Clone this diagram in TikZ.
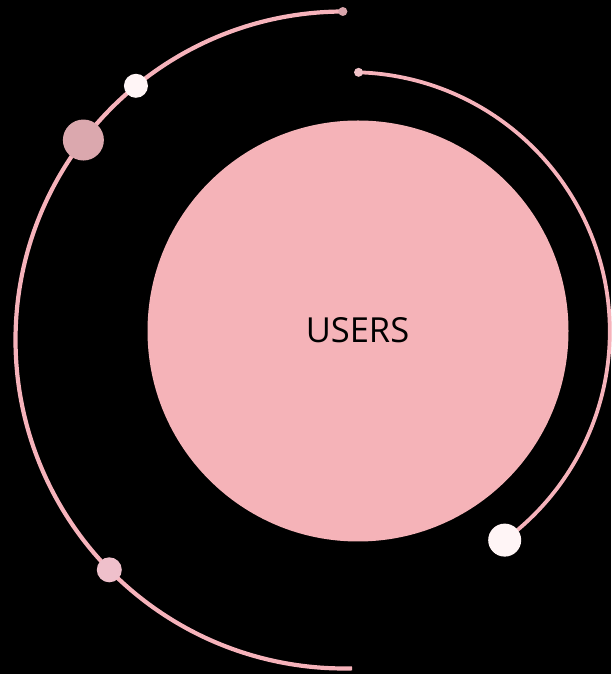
\documentclass[tikz,border=0pt]{standalone}
\usepackage{fontspec}
\setmainfont{Open Sans}
\definecolor{bigpink}{HTML}{F5B3B8}
\definecolor{arcpink}{HTML}{F6B3BB}
\definecolor{dotA}{HTML}{D9A5AC}
\definecolor{dotB}{HTML}{F2C2C8}
\definecolor{dotW}{HTML}{FFF5F6}
\definecolor{dotL}{HTML}{DBA8AE}
\definecolor{dotC}{HTML}{EFC0CB}
\begin{document}
\begin{tikzpicture}[x=1pt,y=1pt,
  orbit/.style={draw=arcpink,line width=4.2pt},
  dot/.style={circle,inner sep=0pt,minimum size=#1}]
\fill[black] (0,0) rectangle (611,674);
\useasboundingbox (0,0) rectangle (611,674);
% main circle
\node[circle,fill=bigpink,minimum size=421pt,inner sep=0pt] (users) at (358,343) {};
\node[font=\fontsize{34.5}{34.5}\selectfont,text=black] (label) at (357.5,344) {USERS};
% centres
\coordinate (cl) at (344,334);
\coordinate (cr) at (350.4,342.4);
% left orbit
\draw[orbit] ([shift={(90.2:328.5)}]cl) arc[start angle=90.2,end angle=271.4,radius=328.5];
% right orbit
\draw[orbit,line width=3.8pt] ([shift={(88.2:259.4)}]cr) arc[start angle=88.2,end angle=-53.5,radius=259.4];
% dots on left orbit
\node[dot=9pt,fill=dotA] (d1) at ([shift={(90.2:328.5)}]cl) {};
\node[dot=24pt,fill=dotW] (d2) at ([shift={(129.3:328.5)}]cl) {};
\node[dot=41pt,fill=dotL] (d3) at ([shift={(142.5:328.5)}]cl) {};
\node[dot=25pt,fill=dotC] (d4) at ([shift={(224.4:328.5)}]cl) {};
% dots on right orbit
\node[dot=9pt,fill=dotB] (d5) at ([shift={(88.2:259.4)}]cr) {};
\node[dot=33pt,fill=dotW] (d6) at ([shift={(-53.5:259.4)}]cr) {};
\end{tikzpicture}
\end{document}
